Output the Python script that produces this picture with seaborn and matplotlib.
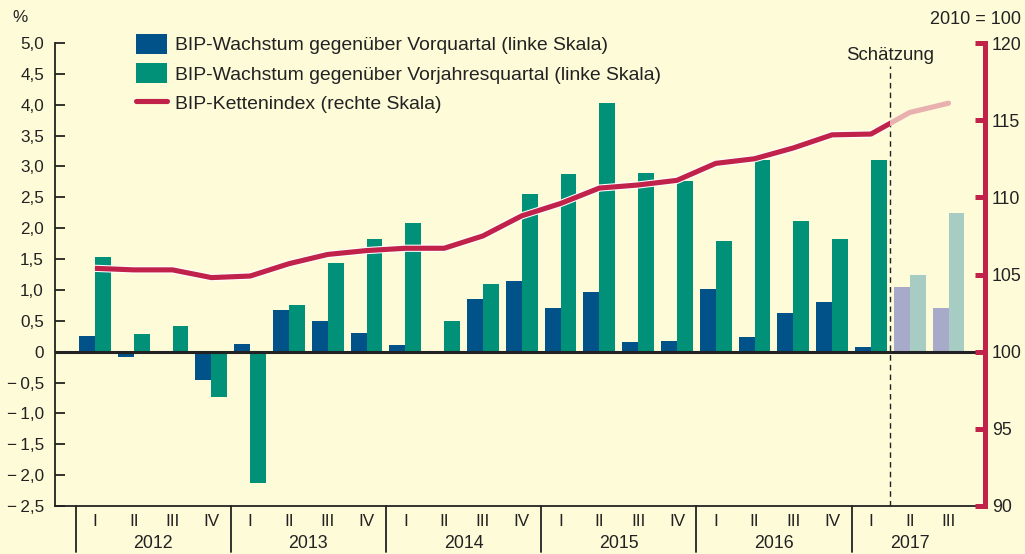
import numpy as np
import pandas as pd
import matplotlib
matplotlib.use("Agg")
import matplotlib.pyplot as plt
import seaborn as sns
from matplotlib.patches import Patch, Rectangle
from matplotlib.lines import Line2D
import matplotlib.patheffects as pe
import matplotlib.transforms as mtransforms

# ---------------- data ----------------
years = [2012] * 4 + [2013] * 4 + [2014] * 4 + [2015] * 4 + [2016] * 4 + [2017] * 3
quarters = ["I", "II", "III", "IV"] * 5 + ["I", "II", "III"]
qoq = [0.26, -0.09, 0.0, -0.46, 0.13, 0.68, 0.49, 0.31, 0.10, 0.0, 0.86, 1.15,
       0.71, 0.96, 0.15, 0.18, 1.02, 0.23, 0.62, 0.81, 0.08, 1.04, 0.70]
yoy = [1.54, 0.29, 0.41, -0.74, -2.13, 0.76, 1.43, 1.83, 2.09, 0.49, 1.09, 2.56,
       2.88, 4.03, 2.90, 2.77, 1.80, 3.11, 2.12, 1.83, 3.10, 1.25, 2.25]
chain_index = [105.4, 105.3, 105.3, 104.8, 104.9, 105.7, 106.3, 106.55, 106.7, 106.7,
               107.5, 108.8, 109.6, 110.6, 110.8, 111.1, 112.2, 112.5, 113.2, 114.05,
               114.1, 115.5, 116.1]
n_actual = 21  # 2012 I ... 2017 I are actual values, rest is "Schätzung"

label_qoq = "BIP-Wachstum gegenüber Vorquartal (linke Skala)"
label_yoy = "BIP-Wachstum gegenüber Vorjahresquartal (linke Skala)"
label_idx = "BIP-Kettenindex (rechte Skala)"
left_ticks = [-2.5, -2.0, -1.5, -1.0, -0.5, 0.0, 0.5, 1.0, 1.5, 2.0, 2.5, 3.0, 3.5, 4.0, 4.5, 5.0]
right_ticks = [90, 95, 100, 105, 110, 115, 120]

# ---------------- style ----------------
BG = "#FEFBD9"
BLUE = "#005289"
GREEN = "#009178"
RED = "#C1224A"
BLUE_EST = "#A7AAC9"
GREEN_EST = "#A6CCC4"
RED_EST = "#E8B0AE"
TXT = "#222222"

sns.set_theme(style="white")
plt.rcParams["font.family"] = ["Liberation Sans", "DejaVu Sans"]
plt.rcParams["text.color"] = TXT
plt.rcParams["axes.labelcolor"] = TXT
plt.rcParams["xtick.color"] = TXT
plt.rcParams["ytick.color"] = TXT

W, H = 1025, 554
fig = plt.figure(figsize=(W / 100, H / 100), dpi=100, facecolor=BG)
ax = fig.add_axes([55 / W, 1 - 506 / H, (985 - 55) / W, (506 - 43) / H])
ax.set_facecolor(BG)

pos = np.arange(len(quarters))
df = pd.DataFrame({
    "pos": np.concatenate([pos, pos]),
    "value": qoq + yoy,
    "series": [label_qoq] * len(pos) + [label_yoy] * len(pos),
})
sns.barplot(data=df, x="pos", y="value", hue="series", hue_order=[label_qoq, label_yoy],
            palette=[BLUE, GREEN], native_scale=True, width=0.82, dodge=True,
            saturation=1, legend=False, linewidth=0, errorbar=None, ax=ax, zorder=2)

# estimated bars in lighter colours
for cont, est_col in zip(ax.containers, [BLUE_EST, GREEN_EST]):
    for i, bar in enumerate(cont.patches):
        if i >= n_actual:
            bar.set_facecolor(est_col)

ax.set_xlim(-1.03, 22.94)
ax.set_ylim(-2.5, 5.0)
ax.axhline(0, color=TXT, lw=2.2, zorder=4)

def fmt(v):
    if v == 0:
        return "0"
    s = f"{abs(v):.1f}".replace(".", ",")
    return ("\u2212\u2009" + s) if v < 0 else s

ax.set_yticks(left_ticks)
ax.set_yticklabels([fmt(v) for v in left_ticks])
ax.tick_params(axis="y", direction="in", length=7, width=1.3, labelsize=12.3, pad=8, colors=TXT)
ax.set_xticks(pos)
ax.set_xticklabels(quarters)
ax.tick_params(axis="x", length=0, labelsize=12.3, pad=6)
ax.set_xlabel("")
ax.set_ylabel("")
for s in ["top", "right"]:
    ax.spines[s].set_visible(False)
for s in ["left", "bottom"]:
    ax.spines[s].set_color(TXT)
    ax.spines[s].set_linewidth(1.3)

# year separators and labels
trans = mtransforms.blended_transform_factory(ax.transData, ax.transAxes)
yrs = np.array(years)
seps = [-0.5] + [i - 0.5 for i in range(1, len(yrs)) if yrs[i] != yrs[i - 1]]
for sx in seps:
    ax.plot([sx, sx], [0, -46 / 463], transform=trans, color=TXT, lw=1.3, clip_on=False)
for y in sorted(set(years)):
    c = pos[yrs == y].mean()
    ax.annotate(str(y), xy=(c, 0), xycoords=trans, xytext=(0, -27), textcoords="offset points",
                ha="center", va="center", fontsize=12.8, color=TXT)

# estimate divider
div_x = n_actual - 0.5
ax.axvline(div_x, ymin=0, ymax=(506 - 66) / 463, color=TXT, lw=1, ls=(0, (4, 3)), zorder=5)
ax.text(div_x, 4.8, "Schätzung", ha="center", va="center", fontsize=13.4, color=TXT)

# right axis: chain index
ax2 = ax.twinx()
ax2.set_ylim(90, 120)
ax2.set_xlim(ax.get_xlim())
halo = [pe.Stroke(linewidth=5.2, foreground="white"), pe.Normal()]
sns.lineplot(x=pos[:n_actual + 1], y=chain_index[:n_actual + 1], ax=ax2, color=RED,
             lw=3.7, sort=False, legend=False)
dark = ax2.lines[-1]
dark.set_path_effects(halo)
dark.set_solid_capstyle("butt")
dark.set_clip_path(Rectangle((-5, 0), div_x + 5, 300, transform=ax2.transData))
sns.lineplot(x=pos[n_actual - 1:], y=chain_index[n_actual - 1:], ax=ax2, color=RED_EST,
             lw=3.7, sort=False, legend=False)
light = ax2.lines[-1]
light.set_solid_capstyle("round")
light.set_clip_path(Rectangle((div_x, 0), 10, 300, transform=ax2.transData))
ax2.set_yticks(right_ticks)
ax2.set_yticklabels([str(v) for v in right_ticks])
ax2.tick_params(axis="y", direction="in", length=7, width=3.6, color=RED, labelcolor=TXT,
                labelsize=12.8, pad=5)
ax2.set_ylabel("")
for s in ["top", "left", "bottom"]:
    ax2.spines[s].set_visible(False)
ax2.spines["right"].set_color(RED)
ax2.spines["right"].set_linewidth(3.6)
ax2.grid(False)
ax.grid(False)

# texts
fig.text(12 / W, 1 - 18 / H, "%", fontsize=12.3, ha="left", va="center", color=TXT)
fig.text(1021 / W, 1 - 20 / H, "2010 = 100", fontsize=13, ha="right", va="center", color=TXT)

# legend
handles = [Patch(facecolor=BLUE, edgecolor="none"), Patch(facecolor=GREEN, edgecolor="none"),
           Line2D([], [], color=RED, lw=3.7)]
fig.legend(handles, [label_qoq, label_yoy, label_idx], loc="upper left",
           bbox_to_anchor=(136 / W, 1 - 34 / H), frameon=False, fontsize=13.95,
           handlelength=1.6, handleheight=1.2, handletextpad=0.42, labelspacing=0.45,
           borderpad=0, borderaxespad=0)

fig.savefig("out.png", dpi=100, facecolor=BG)
